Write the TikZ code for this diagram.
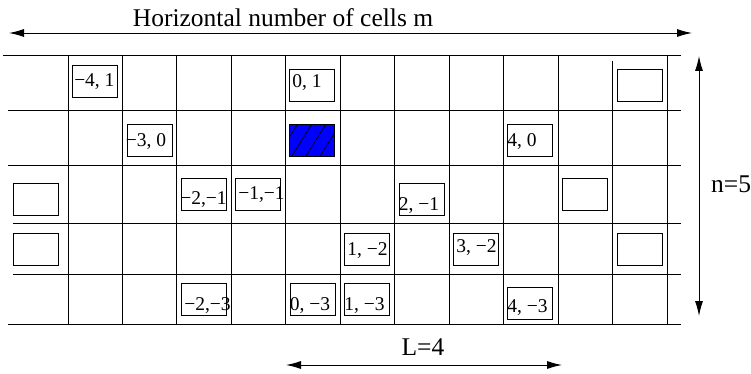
\documentclass[tikz,border=0pt]{standalone}
\usepackage{fontspec}
\setmainfont{Liberation Serif}
\usetikzlibrary{arrows.meta,patterns.meta}

\begin{document}
\begin{tikzpicture}[x=1pt,y=-1pt,
  gridline/.style={line width=0.9pt},
  cellbox/.style={draw,line width=0.9pt,minimum width=45pt,minimum height=32pt,inner sep=0pt},
  celllabel/.style={anchor=base west,inner sep=0pt,font=\fontsize{19.5}{22}\selectfont},
  dimarrow/.style={line width=0.9pt,{Latex[length=15pt,width=8pt]}-{Latex[length=15pt,width=8pt]}},
  dimlabel/.style={inner sep=0pt,font=\fontsize{25.5}{30}\selectfont}]
\useasboundingbox (0,0) rectangle (751,374);

% Horizontal lines of the grid
\foreach \yy/\xs in {55.7/3,110.7/8,165/8,223.7/13,274.3/13,324/8}
  \draw[gridline] (\xs,\yy) -- (681,\yy);
% Vertical lines of the grid
\foreach \i in {0,...,11}
  \draw[gridline] ({68+54.45*\i},{55.7+5.3*(\i==10)}) -- ({68+54.45*\i},324);

% Boxes with their offsets
\foreach \nm/\cx/\cy/\lbl/\dx/\dy in {
    a/95/81/{−4, 1}/2/10.5,
    b/312/85.5/{0, 1}/3/14.5,
    c/149.5/140.5/{−3, 0}/-1/10,
    d/530/140.5/{4, 0}/0/10,
    e/204/194.5/{−2,−1}/-1/6,
    f/258/194.5/{−1,−1}/3/11,
    g/421.5/199/{2, −1}/0/5,
    h/367/249/{1, −2}/3/10,
    i/476/249/{3, −2}/3/13,
    j/204/299/{−2,−3}/3/5,
    k/312.5/299/{0, −3}/0/5,
    l/367/299/{1, −3}/0/5,
    m/530/303/{4, −3}/0/7}{
  \node[cellbox] (b\nm) at (\cx,\cy) {};
  \node[celllabel] (t\nm) at ([xshift=\dx pt,yshift=\dy pt]b\nm.south west) {\lbl};
}

% Empty boxes
\foreach \nm/\cx/\cy in {1/639.5/85.5,2/36/199,3/585/194.5,4/36/249,5/639.5/249}
  \node[cellbox] (e\nm) at (\cx,\cy) {};

% Hatched cell
\node[cellbox,preaction={fill=blue},pattern={Lines[angle=58,distance=12pt,line width=0.7pt]}] (src) at (312,140.5) {};

% Dimension arrows
\coordinate (mleft) at (9,33);
\coordinate (mright) at (692,33);
\coordinate (ntop) at (699,56);
\coordinate (nbot) at (699,316);
\coordinate (Lleft) at (286,365);
\coordinate (Lright) at (562,365);
\draw[dimarrow] (mleft) -- (mright);
\draw[dimarrow] (ntop) -- (nbot);
\draw[dimarrow] (Lleft) -- (Lright);

% Labels
\node[dimlabel,anchor=base] (mlabel) at (283,27) {Horizontal number of cells m};
\node[dimlabel,anchor=base west] (nlabel) at (711,192) {n=5};
\node[dimlabel,anchor=base] (Llabel) at (423,355) {L=4};
\end{tikzpicture}
\end{document}
